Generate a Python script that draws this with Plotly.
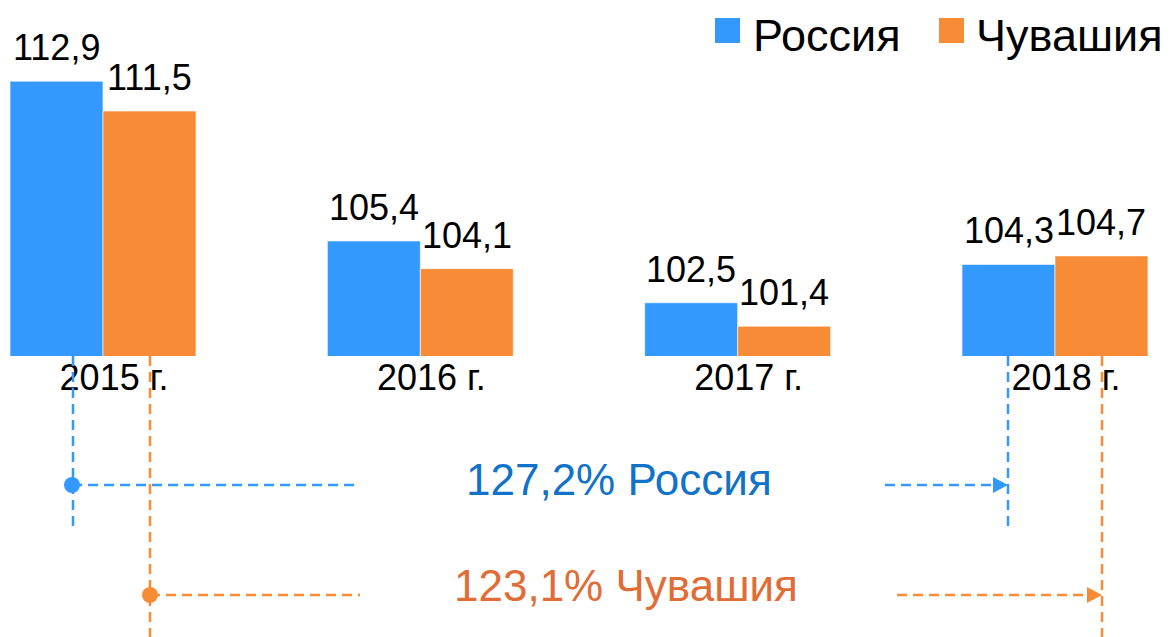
import plotly.graph_objects as go

# ---- data ----
categories = ["2015 г.", "2016 г.", "2017 г.", "2018 г."]
series_names = ["Россия", "Чувашия"]
russia = [112.9, 105.4, 102.5, 104.3]
chuvashia = [111.5, 104.1, 101.4, 104.7]
growth_total = [127.2, 123.1]  # 2018 vs 2015, %

# ---- style ----
BLUE = "#3399FF"
ORANGE = "#F88C36"
BLUE_TXT = "#1172C9"
ORANGE_TXT = "#E06C36"
FONT = "Liberation Sans, Arial, sans-serif"

# page body has an 8px margin; the figure is sized so its right/bottom edges meet the window
OFF = 8
W, H = 1176 - OFF, 637 - OFF
PLOT_BOTTOM = 356          # in window pixels
PLOT_H = PLOT_BOTTOM - OFF
PX_PER_CAT = 317.33
PX_PER_UNIT = 21.3
BARGAP = 0.414
X0 = -(103 - OFF) / PX_PER_CAT
X1 = X0 + W / PX_PER_CAT
Y0 = 100
Y1 = 100 + PLOT_H / PX_PER_UNIT


def fmt(v):
    return f"{v:.1f}".replace(".", ",")


def px(x):
    return (x - OFF) / W


def py(y):
    return (PLOT_BOTTOM - y) / PLOT_H


fig = go.Figure()
for name, vals, col in zip(series_names, [russia, chuvashia], [BLUE, ORANGE]):
    fig.add_bar(
        x=categories, y=vals, name=name, showlegend=False,
        marker=dict(color=col, line=dict(color="rgba(255,255,255,0.6)", width=1)),
        hoverinfo="x+y+name",
    )

fig.update_layout(
    barmode="group", bargap=BARGAP, bargroupgap=0,
    width=W, height=H,
    margin=dict(l=0, r=0, t=0, b=H - PLOT_H, pad=0),
    plot_bgcolor="white", paper_bgcolor="white",
    font=dict(family=FONT, color="black"),
    showlegend=False,
)
fig.update_xaxes(
    range=[X0, X1], showgrid=False, showline=False, zeroline=False, ticks="",
    tickfont=dict(size=36, family=FONT, color="black"),
    ticklabelshift=11, ticklabelstandoff=-3,
)
fig.update_yaxes(range=[Y0, Y1], visible=False)

# data labels above bars
off = (1 - BARGAP) / 4
for i in range(len(categories)):
    for vals, sign in [(russia, -1), (chuvashia, 1)]:
        fig.add_annotation(
            x=i + sign * off, y=vals[i], xref="x", yref="y",
            text=fmt(vals[i]), showarrow=False, yanchor="bottom", yshift=11,
            font=dict(family=FONT, size=36, color="black"),
        )

# legend (large square keys)
legend_items = [(series_names[0], BLUE, 715, 740, 752), (series_names[1], ORANGE, 939, 964, 975)]
for name, col, sx0, sx1, tx in legend_items:
    fig.add_shape(type="rect", xref="paper", yref="paper",
                  x0=px(sx0), x1=px(sx1), y0=py(43), y1=py(18),
                  fillcolor=col, line=dict(width=0))
    fig.add_annotation(x=px(tx), y=1, xref="paper", yref="paper",
                       text=name, showarrow=False, xanchor="left", yanchor="top",
                       borderpad=0, yshift=-1,
                       font=dict(family=FONT, size=45, color="black"))

# growth arrows
dash = "10px,6px"
specs = [
    (BLUE, BLUE_TXT, 73, 1008, 532, 485, 355, 885, 619, 479, growth_total[0], series_names[0], 72),
    (ORANGE, ORANGE_TXT, 150, 1102, 637, 595, 360, 897, 626, 585, growth_total[1], series_names[1], 150),
]
for col, tcol, vx1, vx2, vb, hy, le, rs, tcx, tcy, total, name, cx in specs:
    for vx in (vx1, vx2):
        fig.add_shape(type="line", xref="paper", yref="paper",
                      x0=px(vx), x1=px(vx), y0=py(PLOT_BOTTOM), y1=py(vb),
                      line=dict(color=col, width=2.5, dash=dash))
    fig.add_shape(type="line", xref="paper", yref="paper",
                  x0=px(cx), x1=px(le), y0=py(hy), y1=py(hy),
                  line=dict(color=col, width=2.5, dash=dash))
    fig.add_shape(type="line", xref="paper", yref="paper",
                  x0=px(rs), x1=px(vx2 - 14), y0=py(hy), y1=py(hy),
                  line=dict(color=col, width=2.5, dash=dash))
    fig.add_shape(type="path", xref="paper", yref="paper",
                  path=f"M {px(vx2)},{py(hy)} L {px(vx2 - 15)},{py(hy - 8)} L {px(vx2 - 15)},{py(hy + 8)} Z",
                  fillcolor=col, line=dict(width=0))
    fig.add_shape(type="circle", xref="paper", yref="paper",
                  x0=px(cx - 8), x1=px(cx + 8), y0=py(hy + 8), y1=py(hy - 8),
                  fillcolor=col, line=dict(width=0))
    fig.add_annotation(x=px(tcx), y=py(tcy), xref="paper", yref="paper",
                       text=f"{fmt(total)}% {name}", showarrow=False,
                       xanchor="center", yanchor="middle",
                       font=dict(family=FONT, size=44, color=tcol))

fig.write_html("out.html")
